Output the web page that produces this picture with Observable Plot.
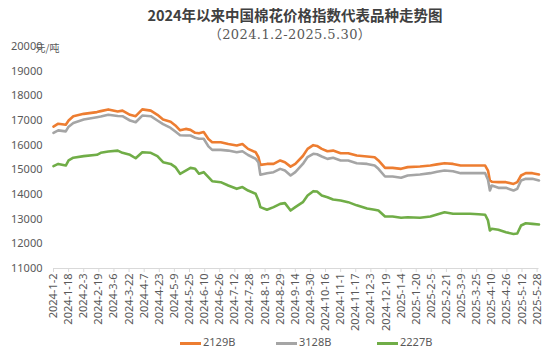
<!DOCTYPE html>
<html><head><meta charset="utf-8">
<script src="https://cdn.jsdelivr.net/npm/d3@7"></script>
<script src="https://cdn.jsdelivr.net/npm/@observablehq/plot@0.6"></script>
<style>
body{margin:0;background:#fff;}
#wrap{position:relative;width:554px;height:356px;background:#fff;overflow:hidden;font-family:"Noto Sans",sans-serif;}
#title{position:absolute;left:18px;width:554px;top:5px;text-align:center;font:bold 14.5px/20px "Noto Sans CJK SC",sans-serif;color:#404040;white-space:nowrap;}
#sub{position:absolute;left:13px;width:554px;top:26px;text-align:center;font:13px/17px "DejaVu Serif","Noto Sans CJK SC",serif;letter-spacing:0.4px;color:#595959;white-space:nowrap;}
#chart{position:absolute;left:0;top:40px;}
.lg-line{position:absolute;top:342px;height:3px;width:21px;}
.lg-text{position:absolute;top:334px;font:11px/16px "Noto Sans",sans-serif;color:#595959;}
</style></head>
<body>
<div id="wrap">
  <div id="title">2024年以来中国棉花价格指数代表品种走势图</div>
  <div id="sub">（2024.1.2-2025.5.30）</div>
  <div id="chart"></div>
  <div id="legend"></div>
</div>
<script>
const seriesNames = ["2129B", "3128B", "2227B"];
const seriesColors = ["#ED7D31", "#A5A5A5", "#70AD47"];

const dates = [
 "2024-01-02","2024-01-07","2024-01-15","2024-01-18","2024-01-23","2024-02-03","2024-02-17","2024-02-21","2024-02-29","2024-03-10",
 "2024-03-15","2024-03-23","2024-03-29","2024-04-05","2024-04-14","2024-04-21","2024-04-27","2024-05-05","2024-05-10","2024-05-15",
 "2024-05-21","2024-05-26","2024-05-31","2024-06-04","2024-06-09","2024-06-14","2024-06-18","2024-06-27","2024-07-05","2024-07-14",
 "2024-07-20","2024-07-26","2024-08-03","2024-08-06","2024-08-08","2024-08-15","2024-08-22","2024-08-29","2024-09-03","2024-09-09",
 "2024-09-14","2024-09-22","2024-09-27","2024-10-03","2024-10-07","2024-10-12","2024-10-18","2024-10-24","2024-11-01","2024-11-09",
 "2024-11-18","2024-11-29","2024-12-07","2024-12-11","2024-12-18","2024-12-26","2025-01-04","2025-01-11","2025-01-24","2025-02-04",
 "2025-02-11","2025-02-19","2025-02-28","2025-03-08","2025-03-18","2025-03-27","2025-04-03","2025-04-06","2025-04-08","2025-04-10",
 "2025-04-17","2025-04-25","2025-05-03","2025-05-07","2025-05-11","2025-05-16","2025-05-23","2025-05-30"
];

const v2129B = [
 16750,16870,16830,17000,17175,17270,17340,17380,17450,17365,
 17400,17230,17175,17450,17400,17230,17040,16950,16800,16600,
 16660,16620,16500,16480,16530,16250,16120,16120,16050,15990,
 16050,15850,15715,15510,15200,15240,15240,15380,15310,15130,
 15240,15560,15850,16000,15970,15850,15755,15780,15675,15675,
 15580,15540,15510,15380,15080,15080,15040,15110,15135,15175,
 15220,15270,15240,15175,15175,15175,15175,14970,14570,14520,
 14500,14500,14430,14500,14770,14865,14865,14810
];

const v3128B = [
 16500,16600,16560,16750,16900,17040,17135,17160,17230,17180,
 17175,17000,16930,17200,17175,17000,16850,16700,16550,16400,
 16390,16390,16300,16260,16260,15950,15810,15810,15780,15715,
 15755,15600,15450,15300,14800,14865,14905,15040,14970,14770,
 14905,15240,15520,15650,15630,15540,15445,15490,15380,15380,
 15270,15240,15175,15040,14730,14730,14680,14770,14810,14865,
 14920,14970,14940,14865,14865,14865,14865,14600,14160,14365,
 14270,14270,14160,14230,14570,14635,14635,14570
];

const v2227B = [
 15150,15240,15175,15380,15490,15555,15610,15690,15745,15780,
 15690,15610,15470,15715,15690,15555,15310,15240,15110,14840,
 14970,15080,15040,14840,14905,14700,14540,14500,14365,14230,
 14300,14160,14030,13760,13490,13380,13490,13620,13650,13350,
 13490,13690,13960,14135,14120,13960,13890,13800,13760,13690,
 13560,13430,13380,13350,13110,13110,13055,13080,13055,13110,
 13190,13280,13220,13220,13220,13200,13180,12950,12540,12610,
 12570,12470,12400,12420,12745,12835,12810,12785
];

const yTicks = [11000,12000,13000,14000,15000,16000,17000,18000,19000,20000];
const xTickLabels = [
 "2024-1-2","2024-1-18","2024-2-3","2024-2-19","2024-3-6","2024-3-22","2024-4-7","2024-4-23","2024-5-9","2024-5-25",
 "2024-6-10","2024-6-26","2024-7-12","2024-7-28","2024-8-13","2024-8-29","2024-9-14","2024-9-30","2024-10-16","2024-11-1",
 "2024-11-17","2024-12-3","2024-12-19","2025-1-4","2025-1-20","2025-2-5","2025-2-21","2025-3-9","2025-3-25","2025-4-10",
 "2025-4-26","2025-5-12","2025-5-28"
];
const unitLabel = "元/吨";

const parse = d3.utcParse("%Y-%m-%d");
const values = [v2129B, v3128B, v2227B];
const rows = seriesNames.flatMap((s, i) => dates.map((d, j) => ({series: s, date: parse(d), value: values[i][j]})));
const xTickDates = xTickLabels.map(parse);
const fmt = d => `${d.getUTCFullYear()}-${d.getUTCMonth() + 1}-${d.getUTCDate()}`;

const chart = Plot.plot({
  width: 554, height: 293,
  marginTop: 6, marginBottom: 65, marginLeft: 53, marginRight: 15.5,
  style: {fontFamily: "Noto Sans", fontSize: "11px", background: "transparent", overflow: "visible"},
  x: {type: "utc", domain: [parse(dates[0]), parse(dates[dates.length - 1])]},
  y: {domain: [11000, 20000]},
  color: {domain: seriesNames, range: seriesColors},
  marks: [
    Plot.axisY({ticks: yTicks, tickSize: 0, tickPadding: 11, tickFormat: d3.format("d"), fill: "#595959", label: null}),
    Plot.axisX({ticks: xTickDates, tickFormat: fmt, tickRotate: -90, tickSize: 4, tickPadding: 1, stroke: "#d9d9d9", fill: "#595959", label: null}),
    Plot.ruleY([11000], {stroke: "#d9d9d9"}),
    Plot.line(rows, {x: "date", y: "value", z: "series", stroke: "series", strokeWidth: 2.6}),
    Plot.text([unitLabel], {frameAnchor: "top-left", text: d => d, dx: -18, dy: -2, textAnchor: "start", fill: "#595959", fontSize: 10, fontFamily: "Noto Sans CJK SC"})
  ]
});
document.getElementById("chart").appendChild(chart);

const legendPos = [180, 276, 377];
const lg = document.getElementById("legend");
seriesNames.forEach((s, i) => {
  const line = document.createElement("div");
  line.className = "lg-line";
  line.style.left = legendPos[i] + "px";
  line.style.background = seriesColors[i];
  lg.appendChild(line);
  const t = document.createElement("div");
  t.className = "lg-text";
  t.style.left = (legendPos[i] + 23) + "px";
  t.textContent = s;
  lg.appendChild(t);
});
</script>
</body></html>
